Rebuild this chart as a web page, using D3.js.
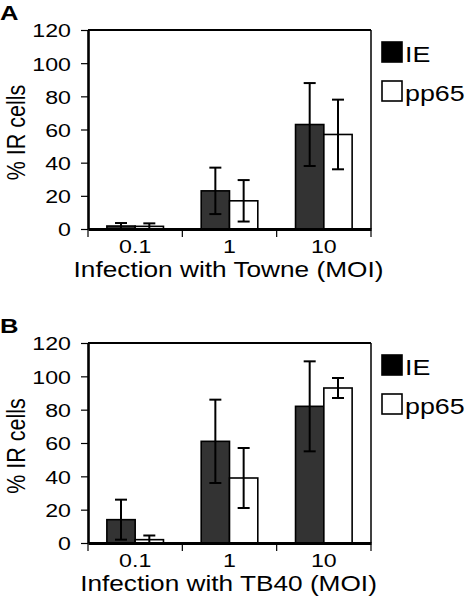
<!DOCTYPE html>
<html>
<head>
<meta charset="utf-8">
<script src="https://cdn.jsdelivr.net/npm/d3@7"></script>
<style>
  html, body { margin: 0; padding: 0; background: #fff; }
  svg { display: block; }
  text { font-family: "Liberation Sans", Arial, Helvetica, sans-serif; fill: #000; }
</style>
</head>
<body>
<svg id="chart" width="466" height="602"></svg>
<script>
// ---- data ----
const categories = ["0.1", "1", "10"];
const seriesNames = ["IE", "pp65"];
const yTicks = [0, 20, 40, 60, 80, 100, 120];

const towneIE = [1.8, 23, 63];
const towneIEErr = [1.8, 14, 25];
const townePP65 = [1.6, 17, 57];
const townePP65Err = [1.8, 12.5, 21];

const tb40IE = [14, 61, 82];
const tb40IEErr = [12, 25, 27];
const tb40PP65 = [2, 39, 93];
const tb40PP65Err = [2.5, 18, 6];

const panelLetters = ["A", "B"];
const xTitles = ["Infection with Towne (MOI)", "Infection with TB40 (MOI)"];
const yTitle = "% IR cells";

// ---- layout / style ----
const SX = 1.22; // horizontal text stretch seen in the reference
const fills = { IE: "#333333", pp65: "#ffffff" };
const panels = [
  { top: 30, bottom: 229, letter: panelLetters[0], xTitle: xTitles[0],
    vals: { IE: towneIE, pp65: townePP65 }, errs: { IE: towneIEErr, pp65: townePP65Err } },
  { top: 343, bottom: 543, letter: panelLetters[1], xTitle: xTitles[1],
    vals: { IE: tb40IE, pp65: tb40PP65 }, errs: { IE: tb40IEErr, pp65: tb40PP65Err } }
];
const left = 88, right = 371;

const svg = d3.select("#chart");

panels.forEach(p => {
  const g = svg.append("g");
  const y = d3.scaleLinear().domain([0, 120]).range([p.bottom, p.top]);
  const x = d3.scaleBand().domain(categories).range([left, right])
    .paddingInner(0.4).paddingOuter(0.2);
  const xs = d3.scaleBand().domain(seriesNames).range([0, x.bandwidth()]).padding(0);

  // panel letter
  g.append("text")
    .attr("transform", `translate(0,${p.top - 10}) scale(${SX},1)`)
    .style("font-size", "21px").style("font-weight", "bold")
    .text(p.letter);

  // frame top and right
  g.append("line").attr("x1", left).attr("x2", right).attr("y1", p.top).attr("y2", p.top)
    .attr("stroke", "#000").attr("stroke-width", 2);
  g.append("line").attr("x1", right).attr("x2", right).attr("y1", p.top).attr("y2", p.bottom)
    .attr("stroke", "#000").attr("stroke-width", 1.5);

  // bars
  seriesNames.forEach(s => {
    const vals = p.vals[s], errs = p.errs[s];
    const bg = g.append("g");
    bg.selectAll("rect").data(categories).join("rect")
      .attr("x", (c) => x(c) + xs(s))
      .attr("y", (c, i) => y(vals[i]))
      .attr("width", xs.bandwidth())
      .attr("height", (c, i) => y(0) - y(vals[i]))
      .attr("fill", fills[s]).attr("stroke", "#000").attr("stroke-width", 1.6);
    // error bars
    const eg = g.append("g").attr("stroke", "#000").attr("stroke-width", 2);
    categories.forEach((c, i) => {
      const cx = x(c) + xs(s) + xs.bandwidth() / 2;
      const hi = y(vals[i] + errs[i]);
      const lo = y(Math.max(0, vals[i] - errs[i]));
      eg.append("line").attr("x1", cx).attr("x2", cx).attr("y1", hi).attr("y2", lo);
      eg.append("line").attr("x1", cx - 6).attr("x2", cx + 6).attr("y1", hi).attr("y2", hi);
      eg.append("line").attr("x1", cx - 6).attr("x2", cx + 6).attr("y1", lo).attr("y2", lo);
    });
  });

  // y axis
  const ya = g.append("g").attr("transform", `translate(${left},0)`)
    .call(d3.axisLeft(y).tickValues(yTicks).tickSize(7).tickPadding(0).tickSizeOuter(0));
  ya.select(".domain").attr("stroke-width", 2.6);
  ya.selectAll(".tick line").attr("stroke-width", 1.2);
  ya.selectAll(".tick text")
    .attr("x", 0).attr("dy", "0.36em")
    .attr("transform", `translate(-17,0) scale(${SX},1)`)
    .style("font-size", "19px").attr("font-family", null);

  // x axis (labels at category centres)
  const xa = g.append("g").attr("transform", `translate(0,${p.bottom})`)
    .call(d3.axisBottom(x).tickSize(0).tickPadding(0).tickSizeOuter(0));
  xa.select(".domain").attr("stroke-width", 3);
  xa.selectAll(".tick text")
    .attr("y", 0).attr("dy", 0)
    .attr("transform", `translate(0,24) scale(${SX},1)`)
    .style("font-size", "19px").attr("font-family", null);
  // category boundary ticks
  const step = x.step();
  const bounds = categories.map(c => x(c) - step * x.paddingInner() / 2);
  bounds[0] = left;
  bounds.push(right);
  g.append("g").selectAll("line").data(bounds).join("line")
    .attr("x1", d => d).attr("x2", d => d)
    .attr("y1", p.bottom).attr("y2", p.bottom + 8)
    .attr("stroke", "#000").attr("stroke-width", 1.2);

  // x title
  g.append("text")
    .attr("transform", `translate(${(left + right) / 2 - 1},${p.bottom + 48}) scale(${SX},1)`)
    .attr("text-anchor", "middle").style("font-size", "21.5px")
    .text(p.xTitle);

  // y title
  g.append("text")
    .attr("transform", `translate(25,${(p.top + p.bottom) / 2 + 3}) scale(${SX},1) rotate(-90)`)
    .attr("text-anchor", "middle").style("font-size", "21.5px")
    .text(yTitle);

  // legend
  const lg = g.append("g");
  seriesNames.forEach((s, i) => {
    const ly = p.top + 12 + i * 39;
    lg.append("rect").attr("x", 382).attr("y", ly).attr("width", 20).attr("height", 20)
      .attr("fill", s === "IE" ? "#000" : "#fff").attr("stroke", "#000").attr("stroke-width", 1.6);
    lg.append("text")
      .attr("transform", `translate(405,${ly + 20}) scale(${SX},1)`)
      .style("font-size", "22px").text(s);
  });
});
</script>
</body>
</html>
